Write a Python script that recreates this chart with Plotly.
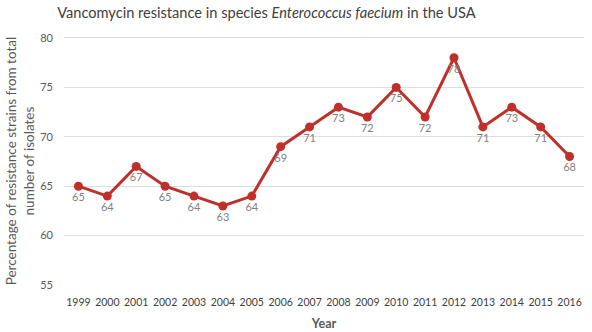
import plotly.graph_objects as go

years = [str(y) for y in range(1999, 2017)]
values = [65, 64, 67, 65, 64, 63, 64, 69, 71, 73, 72, 75, 72, 78, 71, 73, 71, 68]
y_ticks = [55, 60, 65, 70, 75, 80]

FONT = "Lato"
fig = go.Figure(go.Scatter(
    x=years, y=values, mode="lines+markers+text",
    line=dict(color="#C0302B", width=3),
    marker=dict(color="#C0302B", size=9),
    text=[str(v) for v in values], textposition="bottom center",
    textfont=dict(family=FONT, size=11, color="#7f7f7f"),
    cliponaxis=False,
))
fig.update_layout(
    width=592, height=332,
    margin=dict(l=64, r=8, t=36, b=46),
    paper_bgcolor="white", plot_bgcolor="white",
    showlegend=False,
    title=dict(text="Vancomycin resistance in species <i>Enterococcus faecium</i> in the USA",
               x=0.45, xanchor="center", y=0.96, yanchor="middle",
               font=dict(family=FONT, size=14.6, color="#404040")),
    xaxis=dict(type="category", range=[-0.5, 17.5], showgrid=False, showline=False, ticks="",
               automargin=False, ticklabelstandoff=8,
               tickfont=dict(family=FONT, size=10.5, color="#404040"),
               title=dict(text="<b>Year</b>", font=dict(family=FONT, size=12.5, color="#595959"), standoff=12)),
    yaxis=dict(range=[54.9, 80.2], tickvals=y_ticks, showgrid=True, gridcolor="#dedede",
               zeroline=False, showline=False, ticks="", ticklabelstandoff=10, automargin=False,
               tickfont=dict(family=FONT, size=11, color="#595959")),
    annotations=[dict(text="Percentage of resistance strains from total<br>number of isolates",
                      xref="paper", yref="paper", x=-0.084, y=0.5, xanchor="center", yanchor="middle",
                      textangle=-90, showarrow=False,
                      font=dict(family=FONT, size=13.5, color="#595959"))],
)
fig.write_html("out.html", config={"displayModeBar": False},
               post_script="document.body.style.margin='0';document.body.style.overflow='hidden';")
